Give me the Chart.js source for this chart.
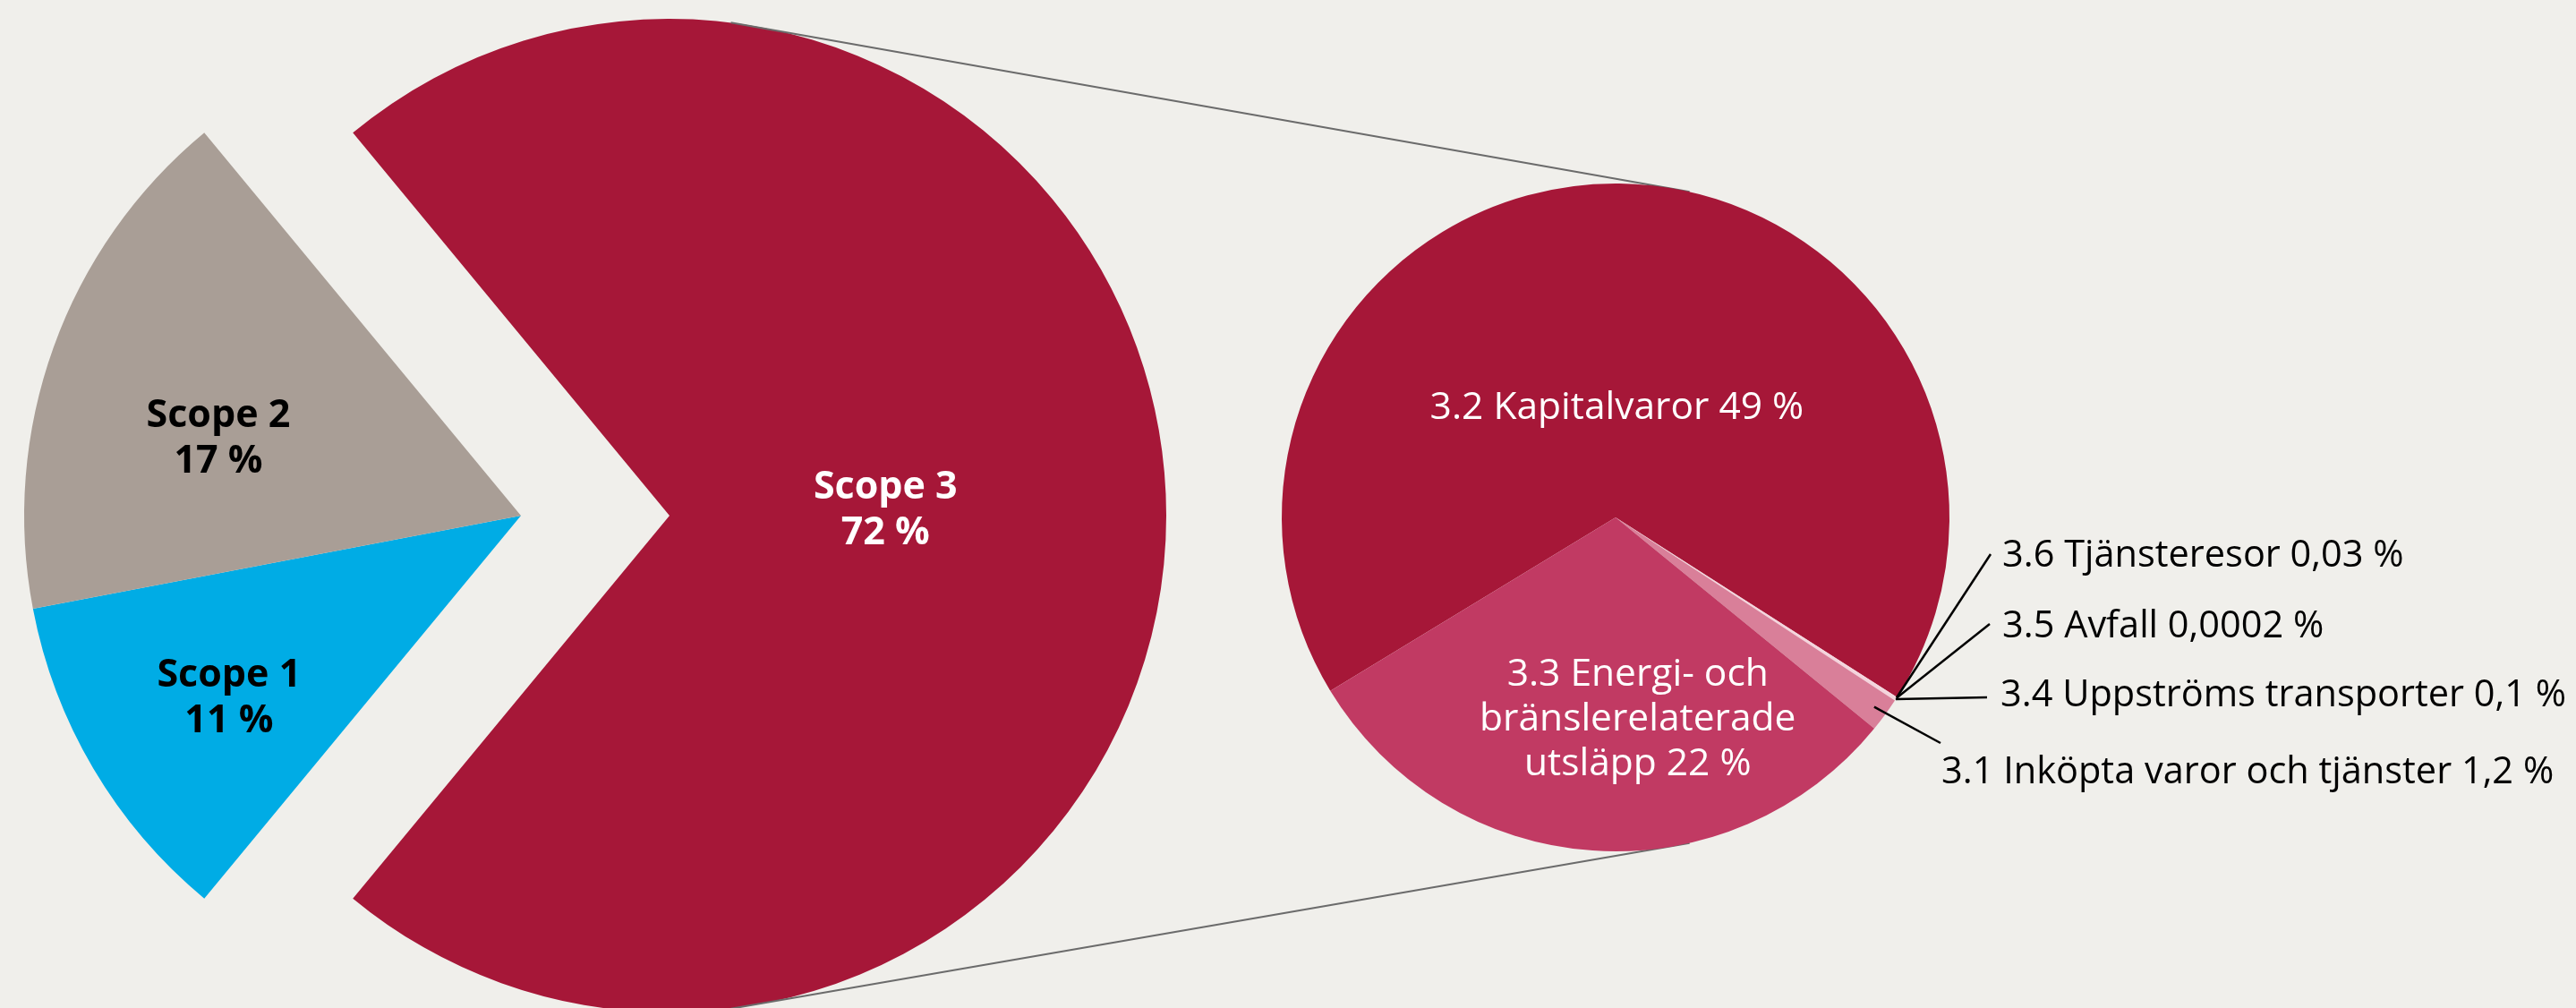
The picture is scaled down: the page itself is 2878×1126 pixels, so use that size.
<!DOCTYPE html>
<html lang="sv">
<head>
<meta charset="utf-8">
<title>Utsläpp per scope</title>
<script src="https://cdn.jsdelivr.net/npm/chart.js@4.4.1/dist/chart.umd.min.js"></script>
<style>
  html, body { margin: 0; padding: 0; background: #F0EFEB; overflow: hidden; }
  #wrap { position: relative; width: 2878px; height: 1126px; }
  canvas { position: absolute; left: 0; top: 0; }
</style>
</head>
<body>
<div id="wrap">
  <canvas id="scopes" width="2878" height="1140"></canvas>
  <canvas id="scope3" width="2878" height="1140"></canvas>
  <canvas id="detail" width="2878" height="1140"></canvas>
</div>
<script>
// Scope 3 first so it can sit on the right side of the split pie
const scopeLabels = ['Scope 3', 'Scope 1', 'Scope 2'];
const scopeValues = [72, 11, 17];
const scopeColors = ['#A61738', '#00ACE5', '#A99E96'];

// breakdown of scope 3, clockwise from the top-left
const detailLabels = [
  '3.2 Kapitalvaror',
  '3.6 Tjänsteresor',
  '3.5 Avfall',
  '3.4 Uppströms transporter',
  '3.1 Inköpta varor och tjänster',
  '3.3 Energi- och\nbränslerelaterade\nutsläpp'
];
const detailValues = [49, 0.03, 0.0002, 0.1, 1.2, 22];
const detailColors = ['#A61738', '#F4D3DC', '#F4D3DC', '#F4D3DC', '#D97F99', '#C13A63'];

const fmt = v => String(v).replace('.', ',') + ' %';
const rad = d => d * Math.PI / 180;
const H = 1140;
const CAP = 0.714; // cap height of Open Sans, in em

// text inside slices
const sliceText = {
  id: 'sliceText',
  afterDatasetsDraw(chart, args, opts) {
    const items = opts.items || [];
    if (!items.length) return;
    const ctx = chart.ctx;
    const meta = chart.getDatasetMeta(0);
    const vals = chart.data.datasets[0].data;
    items.forEach(it => {
      const p = meta.data[it.index].getProps(['x', 'y', 'startAngle', 'endAngle', 'outerRadius'], true);
      const a = (p.startAngle + p.endAngle) / 2 + rad(it.turn || 0);
      const cx = p.x + Math.cos(a) * p.outerRadius * it.at;
      const cy = p.y + Math.sin(a) * p.outerRadius * it.at;
      const lines = (chart.data.labels[it.index] + opts.sep + fmt(vals[it.index])).split('\n');
      ctx.save();
      ctx.font = opts.weight + ' ' + opts.size + 'px "Open Sans", sans-serif';
      ctx.fillStyle = it.color;
      ctx.textAlign = 'center';
      ctx.textBaseline = 'alphabetic';
      lines.forEach((ln, k) => {
        ctx.fillText(ln, cx, cy + opts.size * CAP / 2 + (k - (lines.length - 1) / 2) * opts.lineHeight);
      });
      ctx.restore();
    });
  }
};

// labels with leader lines for the thin slices
const callouts = {
  id: 'callouts',
  afterDatasetsDraw(chart, args, opts) {
    const items = opts.items || [];
    if (!items.length) return;
    const ctx = chart.ctx;
    const meta = chart.getDatasetMeta(0);
    const vals = chart.data.datasets[0].data;
    items.forEach(it => {
      const p = meta.data[it.index].getProps(['x', 'y', 'startAngle', 'endAngle', 'outerRadius'], true);
      const a = (p.startAngle + p.endAngle) / 2;
      const sx = p.x + Math.cos(a) * p.outerRadius * it.at;
      const sy = p.y + Math.sin(a) * p.outerRadius * it.at;
      const tx = p.x + it.dx, ty = p.y + it.dy; // text start, on the baseline
      ctx.save();
      ctx.strokeStyle = '#000';
      ctx.lineWidth = 2.5;
      ctx.beginPath();
      ctx.moveTo(sx, sy);
      ctx.lineTo(tx + it.ex, ty + it.ey);
      ctx.stroke();
      ctx.font = opts.font;
      ctx.fillStyle = '#000';
      ctx.textAlign = 'left';
      ctx.textBaseline = 'alphabetic';
      ctx.fillText(chart.data.labels[it.index] + ' ' + fmt(vals[it.index]), tx, ty);
      ctx.restore();
    });
  }
};

function pieOptions(pad, rotation, extra) {
  return {
    responsive: false,
    animation: false,
    events: [],
    rotation: rotation,
    layout: { padding: pad },
    elements: { arc: { borderWidth: 0 } },
    plugins: Object.assign({ legend: { display: false }, tooltip: { enabled: false } }, extra)
  };
}

const scopeTotal = scopeValues.reduce((a, b) => a + b, 0);
const scopeRotation = 90 - scopeValues[0] / scopeTotal * 180;

// left part: scope 1 and 2
const scopesChart = new Chart(document.getElementById('scopes'), {
  type: 'pie',
  data: {
    labels: scopeLabels,
    datasets: [{
      data: scopeValues,
      backgroundColor: scopeColors.map((c, i) => i === 0 ? 'rgba(0,0,0,0)' : c)
    }]
  },
  options: pieOptions({ left: 27, right: 2878 - 1137, top: 21, bottom: H - 1131 }, scopeRotation, {
    sliceText: {
      weight: 'bold',
      size: 43,
      sep: '\n',
      lineHeight: 51,
      items: [
        { index: 1, at: 0.69, turn: -1, color: '#000' },
        { index: 2, at: 0.63, turn: -5, color: '#000' }
      ]
    }
  }),
  plugins: [sliceText]
});

// scope 3, pulled out to the right
const scope3Chart = new Chart(document.getElementById('scope3'), {
  type: 'pie',
  data: {
    labels: scopeLabels,
    datasets: [{
      data: scopeValues,
      backgroundColor: scopeColors.map((c, i) => i === 0 ? c : 'rgba(0,0,0,0)')
    }]
  },
  options: pieOptions({ left: 193, right: 2878 - 1303, top: 21, bottom: H - 1131 }, scopeRotation, {
    sliceText: {
      weight: 'bold',
      size: 43,
      sep: '\n',
      lineHeight: 51,
      items: [{ index: 0, at: 0.435, turn: -2, color: '#fff' }]
    }
  }),
  plugins: [sliceText]
});

// grey lines joining scope 3 with its breakdown
const joinLines = {
  id: 'joinLines',
  beforeDatasetsDraw(chart) {
    const big = scope3Chart.getDatasetMeta(0).data[0].getProps(['x', 'y', 'outerRadius'], true);
    const small = chart.getDatasetMeta(0).data[0].getProps(['x', 'y', 'outerRadius'], true);
    const ctx = chart.ctx;
    ctx.save();
    ctx.strokeStyle = '#6B6B6B';
    ctx.lineWidth = 2;
    [-1, 1].forEach(s => {
      ctx.beginPath();
      ctx.moveTo(big.x + Math.cos(rad(82.9)) * big.outerRadius, big.y + s * Math.sin(rad(82.9)) * big.outerRadius);
      ctx.lineTo(small.x + Math.cos(rad(77.2)) * small.outerRadius, small.y + s * Math.sin(rad(77.2)) * small.outerRadius);
      ctx.stroke();
    });
    ctx.restore();
  }
};

const detailChart = new Chart(document.getElementById('detail'), {
  type: 'pie',
  data: {
    labels: detailLabels,
    datasets: [{ data: detailValues, backgroundColor: detailColors }]
  },
  options: pieOptions({ left: 1432, right: 2878 - 2178, top: 205, bottom: H - 951 }, 238.7, {
    sliceText: {
      weight: 'normal',
      size: 42.5,
      sep: ' ',
      lineHeight: 50,
      items: [
        { index: 0, at: 0.335, turn: 0, color: '#fff' },
        { index: 5, at: 0.60, turn: -10.3, color: '#fff' }
      ]
    },
    callouts: {
      font: '41.5px "Open Sans", sans-serif',
      items: [
        { index: 1, at: 1.0, dx: 432, dy: 55, ex: -13, ey: -14 },
        { index: 2, at: 1.0, dx: 432, dy: 134, ex: -14, ey: -15 },
        { index: 3, at: 1.0, dx: 430, dy: 211, ex: -15, ey: -10 },
        { index: 4, at: 0.96, dx: 364, dy: 297, ex: -1, ey: -45 }
      ]
    }
  }),
  plugins: [joinLines, sliceText, callouts]
});
</script>
</body>
</html>
